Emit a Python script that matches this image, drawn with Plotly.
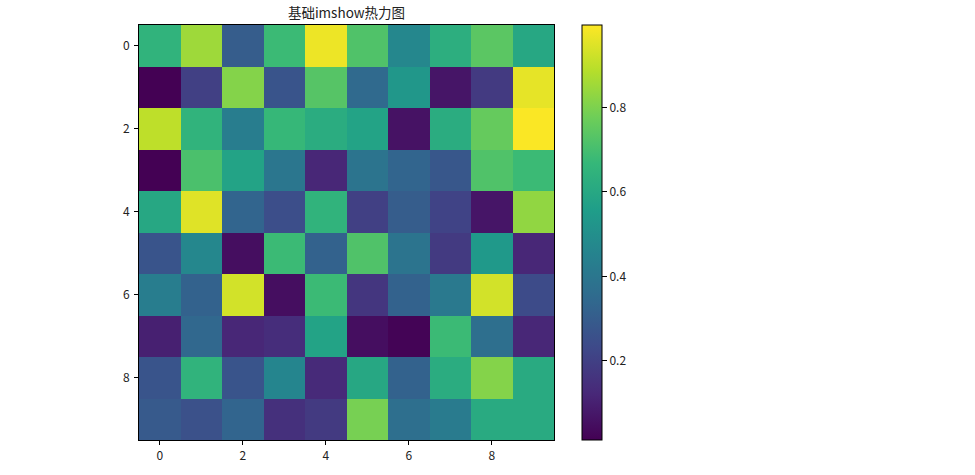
import plotly.graph_objects as go

# data
row_labels = list(range(10))
col_labels = list(range(10))
tick_vals = [0, 2, 4, 6, 8]
cbar_ticks = [0.2, 0.4, 0.6, 0.8]
values = [
    [0.65, 0.85, 0.30, 0.68, 0.97, 0.72, 0.47, 0.63, 0.74, 0.60],
    [0.01, 0.20, 0.81, 0.27, 0.73, 0.35, 0.53, 0.07, 0.18, 0.96],
    [0.90, 0.65, 0.43, 0.67, 0.62, 0.58, 0.06, 0.62, 0.76, 0.99],
    [0.01, 0.71, 0.58, 0.40, 0.12, 0.39, 0.33, 0.28, 0.72, 0.68],
    [0.60, 0.95, 0.33, 0.25, 0.65, 0.20, 0.30, 0.21, 0.07, 0.83],
    [0.27, 0.47, 0.05, 0.68, 0.32, 0.72, 0.39, 0.18, 0.54, 0.12],
    [0.43, 0.32, 0.93, 0.05, 0.68, 0.17, 0.32, 0.41, 0.93, 0.24],
    [0.10, 0.34, 0.12, 0.14, 0.58, 0.05, 0.02, 0.68, 0.37, 0.12],
    [0.27, 0.65, 0.27, 0.46, 0.13, 0.60, 0.32, 0.62, 0.81, 0.61],
    [0.29, 0.26, 0.33, 0.15, 0.18, 0.79, 0.37, 0.42, 0.61, 0.61],
]
title = "基础imshow热力图"
font = "Noto Sans CJK SC"

heat = go.Heatmap(
    z=values, x=col_labels, y=row_labels,
    colorscale="Viridis", zmin=0.013, zmax=0.995,
    colorbar=dict(
        thickness=20, len=1, lenmode="fraction", x=1.0667, xanchor="left",
        y=0, yanchor="bottom", xpad=0, ypad=0,
        tickvals=cbar_ticks, ticktext=["0.2", "0.4", "0.6", "0.8"],
        ticks="outside", ticklen=5, tickcolor="black",
        outlinecolor="black", outlinewidth=1,
        tickfont=dict(family=font, size=12, color="#222222"),
    ),
)

fig = go.Figure(heat)
axis_style = dict(
    tickvals=tick_vals, ticks="outside", ticklen=4, tickcolor="black",
    showgrid=False, zeroline=False, showline=True, linecolor="black",
    linewidth=1, mirror=True,
    tickfont=dict(family=font, size=12, color="#222222"),
)
fig.update_xaxes(**axis_style, range=[-0.5, 9.5], ticklabelstandoff=1)
fig.update_yaxes(**axis_style, range=[9.5, -0.5], ticklabelstandoff=2)
fig.update_layout(
    width=975, height=475, autosize=False,
    margin=dict(l=138.5, r=421, t=24.5, b=35, pad=0),
    paper_bgcolor="white", plot_bgcolor="white",
    title=dict(text=title, x=0.5, xref="paper", xanchor="center",
               y=1, yref="container", yanchor="top",
               pad=dict(t=9), font=dict(family=font, size=13.5, color="#222222")),
)

# the page's default body margin would push the figure 8px off
fig.write_html("out.html", config=dict(displayModeBar=False),
               post_script="document.body.style.margin='0';")
